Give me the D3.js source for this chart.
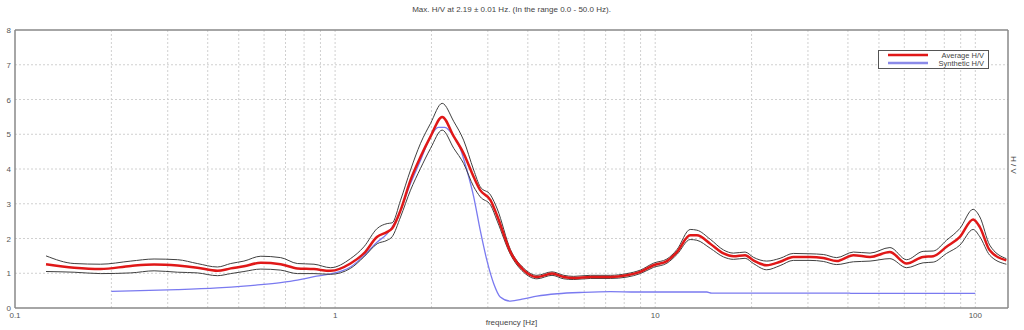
<!DOCTYPE html>
<html><head><meta charset="utf-8">
<script src="https://cdn.jsdelivr.net/npm/d3@7"></script>
<style>body{margin:0;background:#fff;}svg{display:block;font-family:Arial,"Liberation Sans",sans-serif;}</style>
</head><body><svg id="c" width="1024" height="330"></svg>
<script>
const freq = [0.125,0.153,0.185,0.23,0.272,0.322,0.371,0.429,0.472,0.519,0.586,0.676,0.762,0.859,0.968,1.117,1.23,1.354,1.455,1.507,1.601,1.72,1.849,1.986,2.16,2.35,2.52,2.71,2.84,3.06,3.21,3.53,3.88,4.27,4.76,5.18,5.56,6.27,7.24,8.16,8.98,9.88,10.88,11.69,12.86,13.49,14.85,16.34,17.55,19.09,20.26,22.3,24.55,27.0,30.45,33.5,36.9,41.6,46.9,54.1,61.0,68.7,73.9,81.3,89.5,98.4,103.3,110.9,125];
const avgHV = [1.26,1.16,1.12,1.21,1.25,1.22,1.16,1.07,1.14,1.20,1.30,1.26,1.14,1.12,1.07,1.28,1.57,2.05,2.19,2.29,2.81,3.68,4.35,4.93,5.50,4.93,4.45,3.77,3.39,3.10,2.65,1.61,1.09,0.89,0.99,0.89,0.86,0.89,0.89,0.94,1.04,1.23,1.35,1.61,2.09,2.09,1.85,1.57,1.49,1.52,1.37,1.23,1.33,1.47,1.47,1.44,1.35,1.52,1.47,1.61,1.28,1.47,1.49,1.76,2.05,2.55,2.33,1.66,1.37];
const upperHV = [1.50,1.28,1.26,1.35,1.41,1.39,1.28,1.18,1.28,1.35,1.49,1.45,1.28,1.26,1.16,1.42,1.76,2.29,2.43,2.45,3.10,3.97,4.74,5.31,5.89,5.36,4.83,3.97,3.49,3.25,2.85,1.68,1.15,0.94,1.04,0.94,0.91,0.94,0.94,0.99,1.09,1.29,1.41,1.68,2.26,2.24,1.98,1.67,1.58,1.61,1.46,1.35,1.43,1.57,1.56,1.54,1.45,1.61,1.58,1.74,1.39,1.63,1.64,1.95,2.29,2.84,2.62,1.81,1.42];
const lowerHV = [1.05,1.03,0.99,1.01,1.07,1.03,1.01,0.93,0.99,1.05,1.12,1.09,0.99,0.99,0.97,1.14,1.47,1.85,1.95,2.05,2.62,3.39,4.02,4.59,5.12,4.59,4.16,3.49,3.20,2.96,2.50,1.54,1.03,0.84,0.94,0.84,0.82,0.85,0.85,0.89,0.99,1.17,1.29,1.54,1.97,1.95,1.72,1.47,1.40,1.43,1.28,1.10,1.22,1.37,1.37,1.34,1.25,1.33,1.35,1.42,1.16,1.30,1.32,1.57,1.81,2.26,2.05,1.52,1.26];
const synthFreq = [0.2,0.23,0.322,0.429,0.519,0.586,0.676,0.762,0.859,0.968,1.117,1.23,1.354,1.455,1.57,1.72,1.849,1.986,2.1,2.2,2.35,2.46,2.58,2.71,2.84,2.98,3.13,3.28,3.53,3.88,4.27,4.94,5.97,7.24,8.75,14.5,15,40,41,100];
const synthHV = [0.48,0.49,0.53,0.58,0.63,0.67,0.73,0.80,0.90,0.98,1.18,1.50,1.90,2.14,2.62,3.58,4.25,4.93,5.20,5.20,4.93,4.59,3.97,3.20,2.24,1.37,0.70,0.32,0.20,0.26,0.34,0.41,0.45,0.47,0.46,0.46,0.43,0.43,0.42,0.42];
const yTicks = [0,1,2,3,4,5,6,7,8];
const xTickLabels = [0.1,1,10,100];
const titleText = "Max. H/V at 2.19 \u00b1 0.01 Hz. (In the range 0.0 - 50.0 Hz).";
const legendLabels = ["Average H/V","Synthetic H/V"];

const svg = d3.select("#c");
const L=15, R=1008, T=30, B=308;
const x = d3.scaleLog().domain([0.1,126.5]).range([L,R]);
const y = d3.scaleLinear().domain([0,8]).range([B,T]);

// grid
const minor=[];
for (let d=0.1; d<126; d*=10) for (let k=1;k<10;k++){ const v=d*k; if(v>0.1*1.0001 && v<126) minor.push(v); }
svg.append("g").selectAll("line").data(minor).join("line")
  .attr("x1",d=>x(d)).attr("x2",d=>x(d)).attr("y1",T).attr("y2",B)
  .attr("stroke","#d0d0d0").attr("stroke-width",1).attr("stroke-dasharray","2,2");
svg.append("g").selectAll("line").data(yTicks.filter(d=>d>0&&d<8)).join("line")
  .attr("x1",L).attr("x2",R).attr("y1",d=>y(d)).attr("y2",d=>y(d))
  .attr("stroke","#d0d0d0").attr("stroke-width",1).attr("stroke-dasharray","2,2");

// frame
svg.append("line").attr("x1",L).attr("x2",R).attr("y1",T).attr("y2",T).attr("stroke","#888").attr("stroke-width",1.5);
svg.append("line").attr("x1",R).attr("x2",R).attr("y1",T).attr("y2",B).attr("stroke","#888").attr("stroke-width",1.5);
svg.append("line").attr("x1",L).attr("x2",L).attr("y1",T).attr("y2",B).attr("stroke","#888").attr("stroke-width",1.5);
svg.append("line").attr("x1",L).attr("x2",R).attr("y1",B).attr("y2",B).attr("stroke","#888").attr("stroke-width",1.5);

// axes labels
svg.append("g").selectAll("text").data(yTicks).join("text")
  .attr("x",11).attr("y",d=>y(d)+3).attr("text-anchor","end")
  .attr("font-size",8).attr("fill","#555").text(d=>d);
svg.append("g").selectAll("text").data(xTickLabels).join("text")
  .attr("x",d=>x(d)).attr("y",B+10).attr("text-anchor","middle")
  .attr("font-size",8).attr("fill","#555").text(d=>d);
svg.append("text").attr("x",(L+R)/2).attr("y",325).attr("text-anchor","middle")
  .attr("font-size",8).attr("fill","#444").text("frequency [Hz]");
svg.append("text").attr("transform","translate(1011,165) rotate(90)").attr("text-anchor","middle")
  .attr("font-size",8).attr("fill","#444").text("H / V");
svg.append("text").attr("x",(L+R)/2).attr("y",12).attr("text-anchor","middle")
  .attr("font-size",8).attr("fill","#444").text(titleText);

// curves
const line = d3.line().x(d=>x(d[0])).y(d=>y(d[1])).curve(d3.curveMonotoneX);
const zipv = (f,v)=>f.map((d,i)=>[d,v[i]]);
svg.append("path").attr("d",line(zipv(synthFreq,synthHV))).attr("fill","none").attr("stroke","#7a7af0").attr("stroke-width",1.3);
svg.append("path").attr("d",line(zipv(freq,upperHV))).attr("fill","none").attr("stroke","#404040").attr("stroke-width",1);
svg.append("path").attr("d",line(zipv(freq,lowerHV))).attr("fill","none").attr("stroke","#404040").attr("stroke-width",1);
svg.append("path").attr("d",line(zipv(freq,avgHV))).attr("fill","none").attr("stroke","#e01818").attr("stroke-width",2.5);

// legend
const lg = svg.append("g");
lg.append("rect").attr("x",878.5).attr("y",50.5).attr("width",110).attr("height",18).attr("fill","#fff").attr("stroke","#555").attr("stroke-width",1);
const lcol=["#e01818","#8a8ae8"];
legendLabels.forEach((t,i)=>{
  lg.append("line").attr("x1",888).attr("x2",928).attr("y1",55+i*8).attr("y2",55+i*8).attr("stroke",lcol[i]).attr("stroke-width",2.5);
  lg.append("text").attr("x",984).attr("y",58+i*8).attr("text-anchor","end").attr("font-size",7.5).attr("fill","#444").text(t);
});
</script></body></html>
